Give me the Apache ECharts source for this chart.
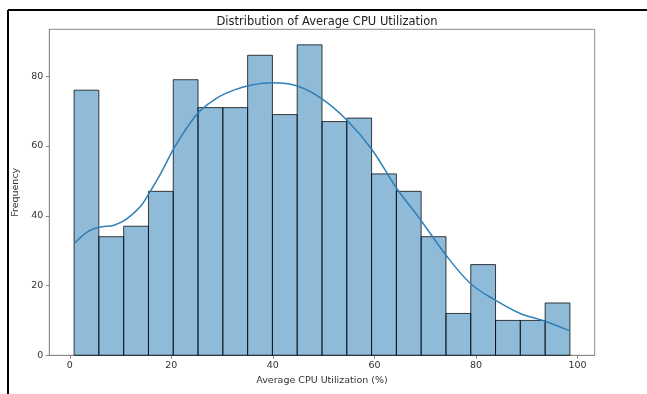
<!DOCTYPE html>
<html>
<head>
<meta charset="utf-8">
<script src="https://cdn.jsdelivr.net/npm/echarts@6/dist/echarts.min.js"></script>
<style>
html,body{margin:0;padding:0;background:#fff;}
#chart{width:647px;height:394px;}
</style>
</head>
<body>
<div id="chart"></div>
<script>
// Histogram bin edges (Average CPU Utilization %)
var binEdges = [0.85, 5.73, 10.62, 15.50, 20.38, 25.26, 30.15, 35.03, 39.91, 44.79, 49.68,
                54.56, 59.44, 64.32, 69.20, 74.09, 78.97, 83.85, 88.73, 93.62, 98.50];
// Counts per bin
var counts = [76, 34, 37, 47, 79, 71, 71, 86, 69, 89, 67, 68, 52, 47, 34, 12, 26, 10, 10, 15];
// KDE curve
var kdeX = [0.98, 3.5, 5.8, 8.7, 11.3, 14.0, 15.6, 17.9, 20.5, 23.1, 25.6, 28.8, 32.3, 35.6, 39.9,
            44.8, 49.6, 54.6, 59.5, 64.4, 69.0, 74.3, 78.9, 83.8, 88.7, 93.3, 98.5];
var kdeY = [32.2, 35.4, 36.7, 37.3, 39.2, 42.8, 46.4, 52.1, 59.3, 65.3, 70.0, 73.6, 76.0, 77.4, 78.1,
            77.2, 73.6, 67.4, 59.0, 47.8, 39.0, 28.3, 20.6, 15.8, 12.0, 9.9, 7.0];
var xTicks = [0, 20, 40, 60, 80, 100];
var yTicks = [0, 20, 40, 60, 80];

var histData = counts.map(function (c, i) { return [binEdges[i], binEdges[i + 1], c]; });
var kdeData = kdeX.map(function (x, i) { return [x, kdeY[i]]; });

var chart = echarts.init(document.getElementById('chart'), null, {renderer: 'canvas'});
var font = 'DejaVu Sans';
chart.setOption({
  animation: false,
  backgroundColor: '#fff',
  title: {
    text: 'Distribution of Average CPU Utilization',
    left: 322, top: 11, textAlign: 'center',
    textStyle: {fontFamily: font, fontSize: 11.5, fontWeight: 'normal', color: '#222'}
  },
  grid: {left: 49.3, top: 29.3, width: 545.4, height: 326, show: true,
         borderColor: '#8a8a8a', borderWidth: 1, backgroundColor: 'transparent'},
  xAxis: {
    type: 'value', min: -4.03, max: 103.38,
    name: 'Average CPU Utilization (%)', nameLocation: 'middle', nameGap: 20,
    nameTextStyle: {fontFamily: font, fontSize: 9.5, color: '#333'},
    axisLine: {show: true, onZero: false, lineStyle: {color: '#8a8a8a', width: 1}},
    axisTick: {show: true, length: 3.5, customValues: xTicks, lineStyle: {color: '#8a8a8a'}},
    axisLabel: {customValues: xTicks, fontFamily: font, fontSize: 9.5, color: '#333', margin: 5},
    splitLine: {show: false}
  },
  yAxis: {
    type: 'value', min: 0, max: 93.45,
    name: 'Frequency', nameLocation: 'middle', nameGap: 29, nameRotate: 90,
    nameTextStyle: {fontFamily: font, fontSize: 9.5, color: '#333'},
    axisLine: {show: true, onZero: false, lineStyle: {color: '#8a8a8a', width: 1}},
    axisTick: {show: true, length: 3.5, customValues: yTicks, lineStyle: {color: '#8a8a8a'}},
    axisLabel: {customValues: yTicks, fontFamily: font, fontSize: 9.5, color: '#333', margin: 6},
    splitLine: {show: false}
  },
  graphic: [
    {type: 'line', shape: {x1: 8, y1: 10, x2: 647, y2: 10}, style: {stroke: '#000', lineWidth: 2}},
    {type: 'line', shape: {x1: 8, y1: 10, x2: 8, y2: 394}, style: {stroke: '#000', lineWidth: 2}}
  ],
  series: [
    {
      type: 'custom',
      data: histData,
      encode: {x: [0, 1], y: 2},
      renderItem: function (params, api) {
        var p0 = api.coord([api.value(0), api.value(2)]);
        var p1 = api.coord([api.value(1), 0]);
        return {
          type: 'rect',
          shape: {x: p0[0], y: p0[1], width: p1[0] - p0[0], height: p1[1] - p0[1]},
          style: {fill: 'rgba(31,119,180,0.5)', stroke: 'rgba(0,0,0,0.75)', lineWidth: 1}
        };
      },
      z: 2
    },
    {
      type: 'line',
      data: kdeData,
      smooth: 0.35,
      showSymbol: false,
      lineStyle: {color: '#2f7fb8', width: 1.5},
      z: 3
    }
  ]
});
</script>
</body>
</html>
